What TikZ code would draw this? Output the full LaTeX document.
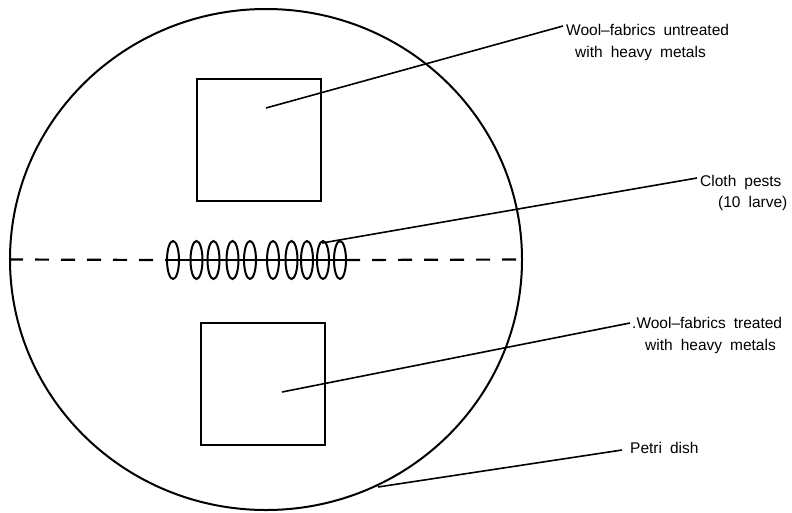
\documentclass[tikz,border=0pt]{standalone}
\usepackage{fontspec}
\setmainfont{Liberation Sans}
\usetikzlibrary{shapes.geometric}
\newcommand{\labelfont}{\fontsize{15.5pt}{18pt}\selectfont\spaceskip=8pt\relax}
\begin{document}
\begin{tikzpicture}[x=1pt,y=-1pt,
  dishstyle/.style={draw, ellipse, line width=2pt, minimum width=512pt, minimum height=501pt, inner sep=0pt},
  fabric/.style={draw, line width=2pt, minimum width=124pt, minimum height=122pt, inner sep=0pt},
  larva/.style={draw, ellipse, line width=2pt, minimum width=12pt, minimum height=38pt, inner sep=0pt},
  leader/.style={line width=1.6pt},
  midline/.style={line width=2.2pt, dash pattern=on 14pt off 12pt},
  label/.style={anchor=base west, inner sep=0pt, font=\labelfont}
]
\useasboundingbox (0,0) rectangle (792,512);
% petri dish outline
\node[dishstyle] (dish) at (266,259.5) {};
% fabrics
\node[fabric] (ru) at (258.5,140) {};
\node[fabric] (rl) at (262.5,384) {};
% centre line
\coordinate (sl) at (167,260);
\coordinate (sr) at (346,260);
\draw[midline] (dish.west) -- (sl);
\draw[midline] (sr) -- (dish.east);
\draw[line width=2pt] (sl) -- (sr);
% larvae
\foreach \i/\x in {1/173,2/196.5,3/213.5,4/232.5,5/250,6/273,7/291.5,8/307,9/323,10/340}{
  \node[larva] (l\i) at (\x,260) {};
}
% labels
\node[label] (t1a) at (566,35) {Wool–fabrics untreated};
\node[label] (t1b) at (575,57) {with heavy metals};
\node[label] (t2a) at (700,186) {Cloth pests};
\node[label] (t2b) at (718,207) {(10 larve)};
\node[label] (t3a) at (632,328) {.Wool–fabrics treated};
\node[label] (t3b) at (645,350) {with heavy metals};
\node[label] (t4) at (630,453) {Petri dish};
% leader lines
\coordinate (s1) at (266,108);
\coordinate (e1) at (563,26);
\coordinate (s2) at (322,243);
\coordinate (e2) at (697,178);
\coordinate (s3) at (282,392);
\coordinate (e3) at (630,323);
\coordinate (s4) at (378,487);
\coordinate (e4) at (622,450);
\draw[leader] (s1) -- (e1);
\draw[leader] (s2) -- (e2);
\draw[leader] (s3) -- (e3);
\draw[leader] (s4) -- (e4);
\end{tikzpicture}
\end{document}
